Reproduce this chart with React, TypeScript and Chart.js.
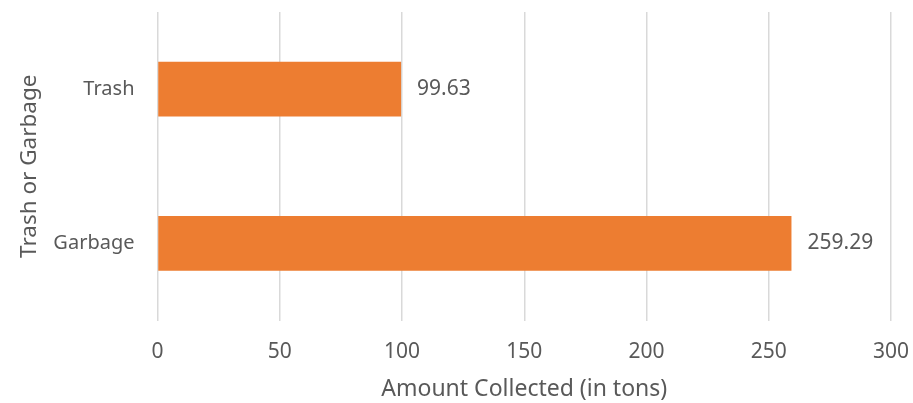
import React, { useEffect, useRef } from "react";
import { Chart, registerables } from "chart.js";

Chart.register(...registerables);

const categories = ["Trash", "Garbage"];
const amounts = [99.63, 259.29];
const xTicks = [0, 50, 100, 150, 200, 250, 300];

const TEXT = "#595959";
const FONT = "'Noto Sans', 'Open Sans', sans-serif";

const valueLabels = {
  id: "valueLabels",
  afterDatasetsDraw(chart: any) {
    const ctx = chart.ctx;
    const meta = chart.getDatasetMeta(0);
    ctx.save();
    ctx.fillStyle = TEXT;
    ctx.font = `21px ${FONT}`;
    ctx.textAlign = "left";
    ctx.textBaseline = "middle";
    meta.data.forEach((bar: any, i: number) => {
      ctx.fillText(amounts[i].toFixed(2), bar.x + 16, bar.y);
    });
    ctx.restore();
  },
};

export default function App() {
  const ref = useRef<HTMLCanvasElement | null>(null);

  useEffect(() => {
    if (!ref.current) return;
    const chart = new Chart(ref.current, {
      type: "bar",
      data: {
        labels: categories,
        datasets: [
          {
            data: amounts,
            backgroundColor: "#ED7D31",
            borderWidth: 0,
            barPercentage: 0.354,
            categoryPercentage: 1,
          },
        ],
      },
      options: {
        indexAxis: "y",
        animation: false,
        responsive: true,
        maintainAspectRatio: false,
        layout: { padding: { top: 12, right: 22, bottom: 0, left: 0 } },
        plugins: {
          legend: { display: false },
          tooltip: { enabled: false },
        },
        scales: {
          x: {
            min: 0,
            max: 300,
            afterBuildTicks: (scale: any) => {
              scale.ticks = xTicks.map((v) => ({ value: v }));
            },
            afterFit: (scale: any) => {
              scale.height = 82.5;
              scale.paddingLeft = 0;
              scale.paddingRight = 0;
            },
            grid: { color: "#d9d9d9", lineWidth: 1.5, drawTicks: false },
            border: { display: false },
            ticks: {
              color: TEXT,
              font: { family: FONT, size: 21 },
              padding: 19,
            },
            title: {
              display: true,
              text: "Amount Collected (in tons)",
              color: TEXT,
              font: { family: FONT, size: 23 },
              padding: 0,
            },
          },
          y: {
            afterFit: (scale: any) => {
              scale.width = 157.5;
              scale.paddingTop = 0;
              scale.paddingBottom = 0;
            },
            grid: { display: false },
            border: { display: false },
            ticks: {
              color: TEXT,
              font: { family: FONT, size: 20 },
              padding: 15,
            },
            title: {
              display: true,
              text: "Trash or Garbage",
              color: TEXT,
              font: { family: FONT, size: 22.5 },
              padding: { top: 16, bottom: 0 },
            },
          },
        },
      },
      plugins: [valueLabels],
    });
    return () => chart.destroy();
  }, []);

  return (
    <div style={{ position: "absolute", left: 0, top: 0, width: 913, height: 403, background: "#fff" }}>
      <canvas ref={ref} />
    </div>
  );
}
